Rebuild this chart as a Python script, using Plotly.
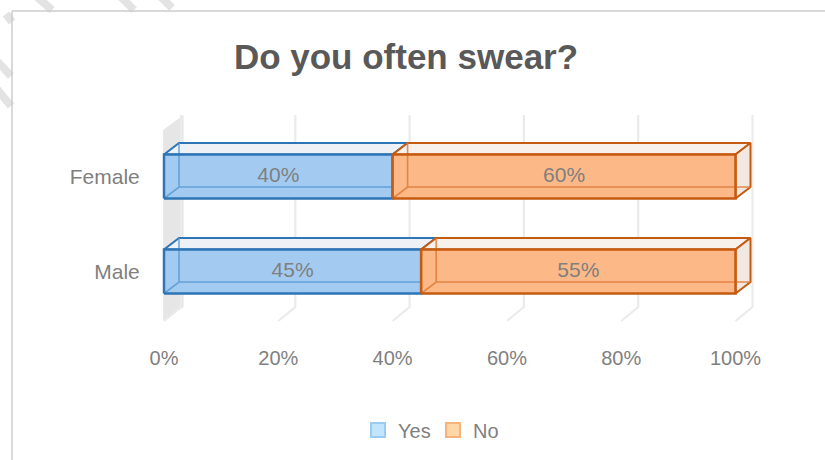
import plotly.graph_objects as go

# ---------------- data ----------------
categories = ["Male", "Female"]
series_names = ["Yes", "No"]
yes_values = [45, 40]
no_values = [55, 60]
x_tick_values = [0, 20, 40, 60, 80, 100]
x_tick_labels = ["0%", "20%", "40%", "60%", "80%", "100%"]
title_text = "Do you often swear?"

# ---------------- styling / geometry constants ----------------
W, HGT = 825, 460
M_L, M_R, M_T, M_B = 150, 55, 105, 130
PX_X = 5.715      # pixels per percent
PX_Y = 95.0       # pixels per category step
X0_PX = 164       # pixel of value 0
C0_PX = 271.5     # pixel of first category centre
plot_w = W - M_L - M_R
plot_h = HGT - M_T - M_B
x_lo = (M_L - X0_PX) / PX_X
x_hi = x_lo + plot_w / PX_X
y_hi = (C0_PX - M_T) / PX_Y
y_lo = y_hi - plot_h / PX_Y

H = 22 / PX_Y          # half bar thickness
DX = 15 / PX_X         # bar depth (x)
DY = 11.5 / PX_Y       # bar depth (y)
DXF = 17 / PX_X        # floor depth (x)
Y_FRONT_FLOOR = (C0_PX - 321) / PX_Y
Y_BACK_FLOOR = (C0_PX - 307) / PX_Y
Y_BACK_TOP = (C0_PX - 115) / PX_Y
Y_FRONT_TOP = (C0_PX - 130) / PX_Y

FONT = "Liberation Sans, Arial, sans-serif"
TXT = "#7F7F7F"

styles = {
    "Yes": dict(front="#A3CBF1", top="#EEF2F7", right="#E6EEF7",
                edge="#2E75B6", hidden="#5B9BD5",
                leg_fill="#C0E5FD", leg_line="#9CCBF2"),
    "No": dict(front="#FCB987", top="#F7F0EB", right="#F1E8E2",
               edge="#C55A11", hidden="#E07B3A",
               leg_fill="#FFD6A8", leg_line="#F7B37C"),
}

fig = go.Figure()

# ---------------- side wall ----------------
fig.add_trace(go.Scatter(
    x=[-0.15, DXF + 0.45, DXF + 0.45, -0.15, -0.15],
    y=[Y_FRONT_FLOOR, Y_BACK_FLOOR, Y_BACK_TOP, Y_FRONT_TOP, Y_FRONT_FLOOR],
    fill="toself", fillcolor="#E6E6E6", mode="lines",
    line=dict(width=0, color="#E6E6E6"), hoverinfo="skip", showlegend=False))

# ---------------- gridlines (back wall + floor) ----------------
gx, gy = [], []
for v in x_tick_values:
    gx += [v + DXF, v + DXF, v, None]
    gy += [Y_BACK_TOP, Y_BACK_FLOOR, Y_FRONT_FLOOR, None]
fig.add_trace(go.Scatter(x=gx, y=gy, mode="lines",
                         line=dict(color="#EBEBEB", width=2.2),
                         hoverinfo="skip", showlegend=False))

# ---------------- 3D stacked bars ----------------
label_x, label_y, label_t = [], [], []
for ci, cat in enumerate(categories):
    c = ci
    start = 0
    for name, vals in (("Yes", yes_values), ("No", no_values)):
        v = vals[ci]
        x0, x1 = start, start + v
        st = styles[name]
        yb, yt = c - H, c + H
        # top face
        fig.add_trace(go.Scatter(
            x=[x0, x1, x1 + DX, x0 + DX, x0], y=[yt, yt, yt + DY, yt + DY, yt],
            fill="toself", fillcolor=st["top"], mode="lines",
            line=dict(color=st["edge"], width=2), hoverinfo="skip", showlegend=False))
        # right face
        fig.add_trace(go.Scatter(
            x=[x1, x1 + DX, x1 + DX, x1, x1], y=[yb, yb + DY, yt + DY, yt, yb],
            fill="toself", fillcolor=st["right"], mode="lines",
            line=dict(color=st["edge"], width=2), hoverinfo="skip", showlegend=False))
        # front face fill
        fig.add_trace(go.Scatter(
            x=[x0, x1, x1, x0, x0], y=[yb, yb, yt, yt, yb],
            fill="toself", fillcolor=st["front"], mode="lines",
            line=dict(width=0, color=st["front"]), hoverinfo="skip", showlegend=False))
        # hidden back edges seen through the face
        fig.add_trace(go.Scatter(
            x=[x0, x0 + DX, x1 + DX, None, x0 + DX, x0 + DX],
            y=[yb, yb + DY, yb + DY, None, yb + DY, yt + DY],
            mode="lines", line=dict(color=st["hidden"], width=1.6),
            opacity=0.85, hoverinfo="skip", showlegend=False))
        # front outline
        fig.add_trace(go.Scatter(
            x=[x0, x1, x1, x0, x0], y=[yb, yb, yt, yt, yb], mode="lines",
            line=dict(color=st["edge"], width=2.5), hoverinfo="skip", showlegend=False))
        label_x.append((x0 + x1) / 2)
        label_y.append(c)
        label_t.append(f"{v}%")
        start = x1

fig.add_trace(go.Scatter(x=label_x, y=label_y, text=label_t, mode="text",
                         textposition="middle center",
                         textfont=dict(family=FONT, size=21, color=TXT),
                         hoverinfo="skip", showlegend=False))

# ---------------- legend entries ----------------
for name in series_names:
    st = styles[name]
    fig.add_trace(go.Scatter(
        x=[None], y=[None], mode="markers", name=name,
        marker=dict(symbol="square", size=14, color=st["leg_fill"],
                    line=dict(color=st["leg_line"], width=2))))

# ---------------- chart border + decorative stripes ----------------
def px2paper_x(px):
    return (px - M_L) / plot_w

def px2paper_y(py):
    return (HGT - M_B - py) / plot_h

shapes = [
    dict(type="line", xref="paper", yref="paper",
         x0=px2paper_x(12), y0=px2paper_y(11), x1=px2paper_x(830), y1=px2paper_y(11),
         line=dict(color="#D9D9D9", width=2)),
    dict(type="line", xref="paper", yref="paper",
         x0=px2paper_x(12), y0=px2paper_y(11), x1=px2paper_x(12), y1=px2paper_y(470),
         line=dict(color="#D9D9D9", width=2)),
]
stripes = [((36, -4), (52, 10)), ((120, -4), (134, 10)), ((160, -4), (172, 8)),
           ((-4, 60), (11, 76)), ((-4, 88), (11, 106)), ((6, 14), (12, 22))]
for (ax, ay), (bx, by) in stripes:
    shapes.append(dict(type="line", xref="paper", yref="paper",
                       x0=px2paper_x(ax), y0=px2paper_y(ay),
                       x1=px2paper_x(bx), y1=px2paper_y(by),
                       line=dict(color="rgba(200,200,200,0.5)", width=8)))

fig.update_layout(
    width=W, height=HGT,
    margin=dict(l=M_L, r=M_R, t=M_T, b=M_B, pad=0),
    paper_bgcolor="white", plot_bgcolor="white",
    title=dict(text=title_text, xref="container", yref="container",
               x=406 / W, y=1 - 57 / HGT, xanchor="center", yanchor="middle",
               font=dict(family=FONT, size=35, color="#595959", weight="bold")),
    xaxis=dict(range=[x_lo, x_hi], tickvals=x_tick_values, ticktext=x_tick_labels,
               showgrid=False, zeroline=False, showline=False,
               ticks="outside", ticklen=4, tickcolor="rgba(0,0,0,0)",
               ticklabelstandoff=6,
               tickfont=dict(family=FONT, size=20, color=TXT), fixedrange=True),
    yaxis=dict(range=[y_lo, y_hi], tickvals=list(range(len(categories))),
               ticktext=categories, showgrid=False, zeroline=False, showline=False,
               ticks="outside", ticklen=1, tickcolor="rgba(0,0,0,0)",
               ticklabelstandoff=4,
               tickfont=dict(family=FONT, size=21, color=TXT), fixedrange=True),
    legend=dict(orientation="h", xref="container", yref="container",
                x=433 / W, y=1 - 430 / HGT, xanchor="center", yanchor="middle",
                font=dict(family=FONT, size=20, color=TXT),
                itemwidth=30, tracegroupgap=0, bgcolor="rgba(0,0,0,0)",
                entrywidth=30, entrywidthmode="pixels"),
    shapes=shapes,
    showlegend=True,
)

fig.write_html("out.html", config={"displayModeBar": False},
               post_script="document.body.style.margin='0';")
